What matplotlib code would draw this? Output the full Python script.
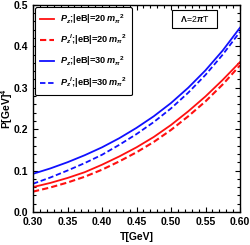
import matplotlib.pyplot as plt
from matplotlib.ticker import MultipleLocator

T = [0.300, 0.325, 0.350, 0.375, 0.400, 0.425, 0.450, 0.475, 0.500, 0.525, 0.550, 0.575, 0.600]
pz_20 = [0.060, 0.070, 0.082, 0.096, 0.114, 0.134, 0.156, 0.181, 0.210, 0.243, 0.279, 0.319, 0.362]
pzl_20 = [0.049, 0.059, 0.071, 0.085, 0.102, 0.122, 0.144, 0.169, 0.198, 0.231, 0.267, 0.308, 0.354]
pz_30 = [0.092, 0.105, 0.120, 0.137, 0.156, 0.178, 0.203, 0.231, 0.263, 0.300, 0.342, 0.390, 0.445]
pzl_30 = [0.068, 0.083, 0.100, 0.118, 0.138, 0.162, 0.188, 0.217, 0.250, 0.288, 0.331, 0.380, 0.435]

plt.rcParams['font.family'] = ['Liberation Sans', 'DejaVu Sans']
plt.rcParams['mathtext.fontset'] = 'custom'
plt.rcParams['mathtext.it'] = 'Liberation Sans:italic:bold'
plt.rcParams['mathtext.rm'] = 'Liberation Sans:bold'

fig = plt.figure(figsize=(2.5, 2.45), dpi=100)
ax = fig.add_axes([0.132, 0.135, 0.828, 0.845])

ax.plot(T, pz_20, color='#ff1010', lw=1.3, label=r'$P_z$;|eB|=20$\,m_\pi{}^2$')
ax.plot(T, pzl_20, color='#ff1010', lw=1.5, ls=(0, (3, 1.5)), label=r'$P_z{}^l$;|eB|=20$\,m_\pi{}^2$')
ax.plot(T, pz_30, color='#1010ff', lw=1.3, label=r'$P_z$;|eB|=30$\,m_\pi{}^2$')
ax.plot(T, pzl_30, color='#1010ff', lw=1.3, ls=(0, (3, 1.5)), label=r'$P_z{}^l$;|eB|=30$\,m_\pi{}^2$')

ax.set_xlim(0.30, 0.60)
ax.set_ylim(0.0, 0.5)
ax.xaxis.set_major_locator(MultipleLocator(0.05))
ax.xaxis.set_minor_locator(MultipleLocator(0.01))
ax.yaxis.set_major_locator(MultipleLocator(0.1))
ax.yaxis.set_minor_locator(MultipleLocator(0.02))
ax.tick_params(which='both', direction='in', top=True, right=True, labelsize=7.5, width=0.8)
ax.tick_params(which='major', length=3.5)
ax.tick_params(which='minor', length=2)
for lab in ax.get_xticklabels() + ax.get_yticklabels():
    lab.set_fontweight('bold')
for s in ax.spines.values():
    s.set_linewidth(1.0)

ax.set_xlabel('T[GeV]', fontsize=7.5, fontweight='bold', labelpad=4)
ax.set_ylabel(r'P[GeV]$^4$', fontsize=7.5, fontweight='bold')
ax.yaxis.set_label_coords(-0.088, 0.5)

leg = ax.legend(loc='upper left', handlelength=1.5, handletextpad=0.6,
                labelspacing=0.78, borderpad=0.6, borderaxespad=0.2,
                fancybox=True, framealpha=1, edgecolor='black',
                prop={'size': 6.6, 'weight': 'bold'})
leg.get_frame().set_linewidth(0.8)

ax.text(0.78, 0.932, r'  $\Lambda$=2$\pi$T  ', transform=ax.transAxes, fontsize=6.3,
        ha='center', va='center',
        bbox=dict(boxstyle='square,pad=0.45', fc='white', ec='black', lw=0.8))

fig.savefig('out.png', dpi=100)
